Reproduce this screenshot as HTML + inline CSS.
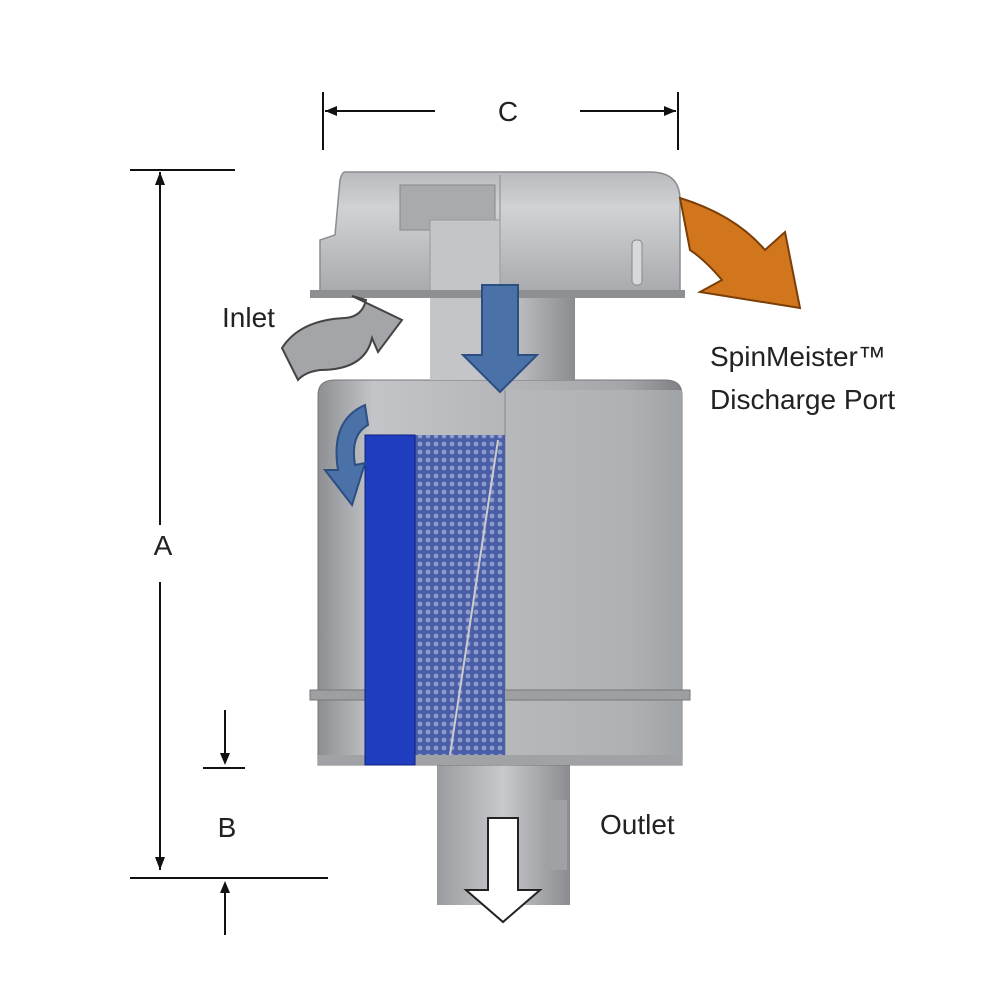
<!DOCTYPE html>
<html><head><meta charset="utf-8"><style>
html,body{margin:0;padding:0;background:#fff}
svg{display:block}
text{font-family:"Liberation Sans",sans-serif;fill:#222}
</style></head><body>
<svg width="1000" height="1000" viewBox="0 0 1000 1000" xmlns="http://www.w3.org/2000/svg">
<defs>
<linearGradient id="g1" x1="0" x2="1" y1="0" y2="0">
<stop offset="0" stop-color="#8d8f93"/><stop offset="0.15" stop-color="#c2c4c7"/><stop offset="0.5" stop-color="#b5b7ba"/><stop offset="0.85" stop-color="#a3a5a9"/><stop offset="1" stop-color="#7e8084"/>
</linearGradient>
<linearGradient id="g2" x1="0" x2="1" y1="0" y2="0">
<stop offset="0" stop-color="#9a9ca0"/><stop offset="0.5" stop-color="#c7c9cc"/><stop offset="1" stop-color="#8a8c90"/>
</linearGradient>
<linearGradient id="lid" x1="0" x2="0" y1="0" y2="1">
<stop offset="0" stop-color="#b8babd"/><stop offset="0.3" stop-color="#d0d2d4"/><stop offset="1" stop-color="#a8aaad"/>
</linearGradient>
<pattern id="mesh" width="8" height="8" patternUnits="userSpaceOnUse">
<rect width="8" height="8" fill="#4a5fa8"/>
<circle cx="4" cy="4" r="2.4" fill="#8d9bc9"/>
</pattern>
</defs>

<g stroke="#111" stroke-width="2" fill="none">
<line x1="323" y1="92" x2="323" y2="150"/>
<line x1="678" y1="92" x2="678" y2="150"/>
<line x1="325" y1="111" x2="435" y2="111"/>
<line x1="580" y1="111" x2="676" y2="111"/>
<line x1="130" y1="170" x2="235" y2="170"/>
<line x1="160" y1="172" x2="160" y2="525"/>
<line x1="160" y1="582" x2="160" y2="870"/>
<line x1="130" y1="878" x2="328" y2="878"/>
<line x1="225" y1="710" x2="225" y2="762"/>
<line x1="203" y1="768" x2="245" y2="768"/>
<line x1="225" y1="886" x2="225" y2="935"/>
</g>
<g fill="#111">
<polygon points="325,111 337,106 337,116"/>
<polygon points="676,111 664,106 664,116"/>
<polygon points="160,172 155,185 165,185"/>
<polygon points="160,870 155,857 165,857"/>
<polygon points="225,765 220,753 230,753"/>
<polygon points="225,881 220,893 230,893"/>
</g>
<text x="508" y="121" font-size="28" text-anchor="middle">C</text>
<text x="163" y="555" font-size="28" text-anchor="middle">A</text>
<text x="227" y="837" font-size="28" text-anchor="middle">B</text>

<rect x="437" y="760" width="133" height="145" fill="url(#g2)"/>
<rect x="545" y="800" width="22" height="70" fill="#9fa1a4"/>

<path d="M318,395 Q318,380 335,380 L665,380 Q682,380 682,395 L682,765 L318,765 Z" fill="url(#g1)" stroke="#777" stroke-width="1"/>
<rect x="505" y="390" width="177" height="375" fill="#b8babd" opacity="0.6"/>
<line x1="505" y1="390" x2="505" y2="765" stroke="#888"/>
<rect x="310" y="690" width="380" height="10" fill="#9d9fa2" stroke="#777"/>
<rect x="318" y="755" width="364" height="10" fill="#a0a2a5"/>
<rect x="415" y="435" width="90" height="320" fill="url(#mesh)"/>
<line x1="498" y1="440" x2="450" y2="755" stroke="#ccc" stroke-width="2"/>
<rect x="365" y="435" width="50" height="330" fill="#1f3dbf" stroke="#0c1e80"/>

<rect x="430" y="295" width="145" height="85" fill="url(#g2)"/>
<rect x="430" y="220" width="70" height="160" fill="#c3c5c8"/>

<path d="M345,172 L650,172 Q680,172 680,200 L680,292 L320,292 L320,240 L335,235 L340,180 Q342,172 345,172 Z" fill="url(#lid)" stroke="#8a8c90" stroke-width="1.5"/>
<line x1="500" y1="175" x2="500" y2="292" stroke="#8a8c90"/>
<rect x="400" y="185" width="95" height="45" fill="#a8aaad" stroke="#888"/>
<rect x="430" y="220" width="70" height="72" fill="#c3c5c8" stroke="#999"/>
<rect x="310" y="290" width="375" height="8" fill="#8d8f93"/>
<rect x="632" y="240" width="10" height="45" rx="4" fill="#d8d9db" stroke="#888"/>

<polygon points="482,285 518,285 518,355 537,355 500,392 463,355 482,355" fill="#4a72a8" stroke="#2c4e80" stroke-width="2"/>

<!-- orange arrow -->
<path d="M680,198 Q735,215 765,250 L785,232 L800,308 L700,292 L722,280 Q705,260 690,250 Z" fill="#d1761c" stroke="#7a3f08" stroke-width="2"/>

<!-- gray inlet arrow -->
<path d="M282,348 Q300,320 345,318 Q362,317 366,300 L352,296 L402,320 L378,352 L372,338 Q365,370 320,370 Q305,372 298,380 Z" fill="#a3a5a8" stroke="#444" stroke-width="2"/>

<path d="M365,405 Q330,420 338,470 L325,470 L352,505 L365,463 L355,465 Q350,435 368,425 Z" fill="#4a72a8" stroke="#2c4e80" stroke-width="2"/>

<polygon points="488,818 518,818 518,890 540,890 503,922 466,890 488,890" fill="#fff" stroke="#222" stroke-width="2"/>

<text x="222" y="327" font-size="28">Inlet</text>
<text x="710" y="366" font-size="28">SpinMeister™</text>
<text x="710" y="409" font-size="28">Discharge Port</text>
<text x="600" y="834" font-size="28">Outlet</text>
</svg>
</body></html>
